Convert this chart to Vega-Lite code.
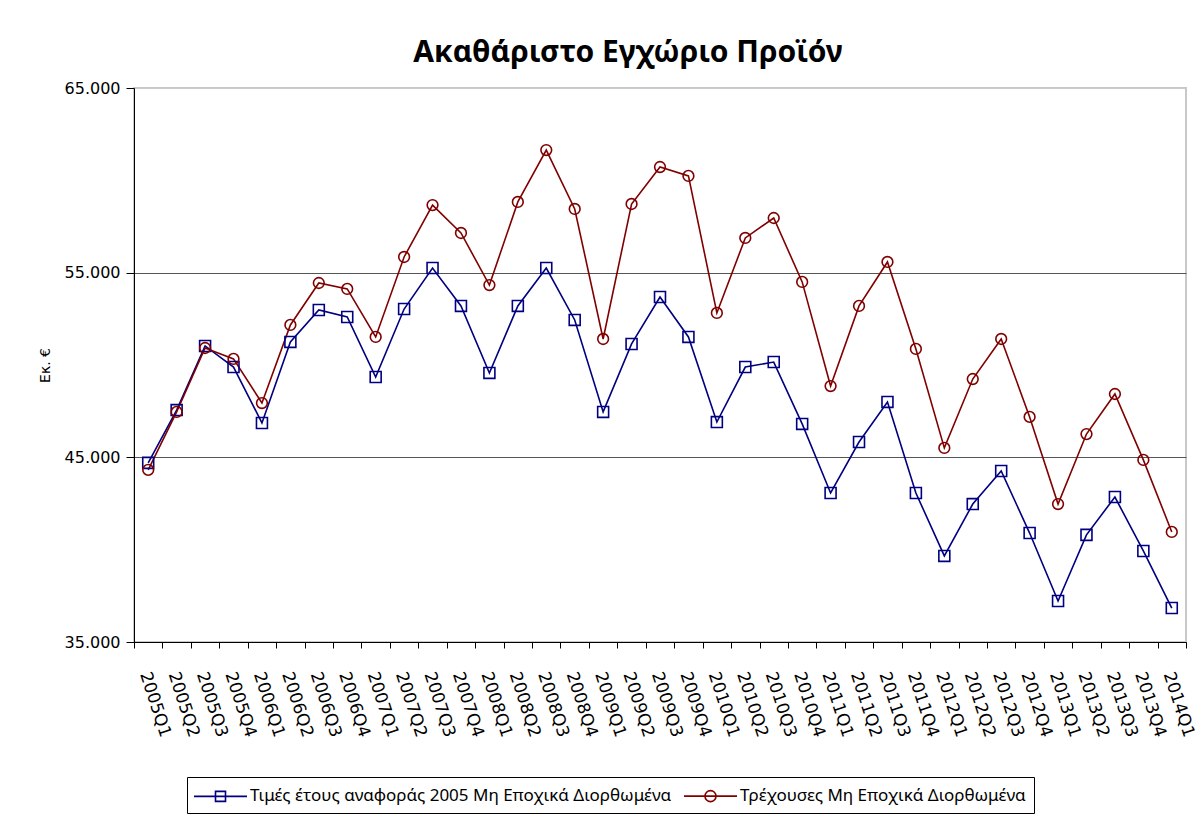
{
  "$schema": "https://vega.github.io/schema/vega-lite/v6.json",
  "width": 1052,
  "height": 554,
  "autosize": "none",
  "padding": {"left": 134, "top": 88, "right": 15, "bottom": 180},
  "background": "white",
  "title": {
    "text": "Ακαθάριστο Εγχώριο Προϊόν",
    "font": "Noto Sans",
    "fontSize": 30,
    "fontWeight": "bold",
    "color": "black",
    "anchor": "middle",
    "offset": 12,
    "dx": -32
  },
  "data": {
    "values": [
      {"q": "2005Q1", "series": "Τιμές έτους αναφοράς 2005 Μη Εποχικά Διορθωμένα", "value": 44700},
      {"q": "2005Q2", "series": "Τιμές έτους αναφοράς 2005 Μη Εποχικά Διορθωμένα", "value": 47560},
      {"q": "2005Q3", "series": "Τιμές έτους αναφοράς 2005 Μη Εποχικά Διορθωμένα", "value": 51030},
      {"q": "2005Q4", "series": "Τιμές έτους αναφοράς 2005 Μη Εποχικά Διορθωμένα", "value": 49890},
      {"q": "2006Q1", "series": "Τιμές έτους αναφοράς 2005 Μη Εποχικά Διορθωμένα", "value": 46860},
      {"q": "2006Q2", "series": "Τιμές έτους αναφοράς 2005 Μη Εποχικά Διορθωμένα", "value": 51250},
      {"q": "2006Q3", "series": "Τιμές έτους αναφοράς 2005 Μη Εποχικά Διορθωμένα", "value": 52980},
      {"q": "2006Q4", "series": "Τιμές έτους αναφοράς 2005 Μη Εποχικά Διορθωμένα", "value": 52600},
      {"q": "2007Q1", "series": "Τιμές έτους αναφοράς 2005 Μη Εποχικά Διορθωμένα", "value": 49350},
      {"q": "2007Q2", "series": "Τιμές έτους αναφοράς 2005 Μη Εποχικά Διορθωμένα", "value": 53030},
      {"q": "2007Q3", "series": "Τιμές έτους αναφοράς 2005 Μη Εποχικά Διορθωμένα", "value": 55250},
      {"q": "2007Q4", "series": "Τιμές έτους αναφοράς 2005 Μη Εποχικά Διορθωμένα", "value": 53200},
      {"q": "2008Q1", "series": "Τιμές έτους αναφοράς 2005 Μη Εποχικά Διορθωμένα", "value": 49570},
      {"q": "2008Q2", "series": "Τιμές έτους αναφοράς 2005 Μη Εποχικά Διορθωμένα", "value": 53200},
      {"q": "2008Q3", "series": "Τιμές έτους αναφοράς 2005 Μη Εποχικά Διορθωμένα", "value": 55250},
      {"q": "2008Q4", "series": "Τιμές έτους αναφοράς 2005 Μη Εποχικά Διορθωμένα", "value": 52440},
      {"q": "2009Q1", "series": "Τιμές έτους αναφοράς 2005 Μη Εποχικά Διορθωμένα", "value": 47460},
      {"q": "2009Q2", "series": "Τιμές έτους αναφοράς 2005 Μη Εποχικά Διορθωμένα", "value": 51140},
      {"q": "2009Q3", "series": "Τιμές έτους αναφοράς 2005 Μη Εποχικά Διορθωμένα", "value": 53680},
      {"q": "2009Q4", "series": "Τιμές έτους αναφοράς 2005 Μη Εποχικά Διορθωμένα", "value": 51520},
      {"q": "2010Q1", "series": "Τιμές έτους αναφοράς 2005 Μη Εποχικά Διορθωμένα", "value": 46910},
      {"q": "2010Q2", "series": "Τιμές έτους αναφοράς 2005 Μη Εποχικά Διορθωμένα", "value": 49890},
      {"q": "2010Q3", "series": "Τιμές έτους αναφοράς 2005 Μη Εποχικά Διορθωμένα", "value": 50160},
      {"q": "2010Q4", "series": "Τιμές έτους αναφοράς 2005 Μη Εποχικά Διορθωμένα", "value": 46810},
      {"q": "2011Q1", "series": "Τιμές έτους αναφοράς 2005 Μη Εποχικά Διορθωμένα", "value": 43070},
      {"q": "2011Q2", "series": "Τιμές έτους αναφοράς 2005 Μη Εποχικά Διορθωμένα", "value": 45830},
      {"q": "2011Q3", "series": "Τιμές έτους αναφοράς 2005 Μη Εποχικά Διορθωμένα", "value": 48000},
      {"q": "2011Q4", "series": "Τιμές έτους αναφοράς 2005 Μη Εποχικά Διορθωμένα", "value": 43070},
      {"q": "2012Q1", "series": "Τιμές έτους αναφοράς 2005 Μη Εποχικά Διορθωμένα", "value": 39660},
      {"q": "2012Q2", "series": "Τιμές έτους αναφοράς 2005 Μη Εποχικά Διορθωμένα", "value": 42470},
      {"q": "2012Q3", "series": "Τιμές έτους αναφοράς 2005 Μη Εποχικά Διορθωμένα", "value": 44260},
      {"q": "2012Q4", "series": "Τιμές έτους αναφοράς 2005 Μη Εποχικά Διορθωμένα", "value": 40900},
      {"q": "2013Q1", "series": "Τιμές έτους αναφοράς 2005 Μη Εποχικά Διορθωμένα", "value": 37220},
      {"q": "2013Q2", "series": "Τιμές έτους αναφοράς 2005 Μη Εποχικά Διορθωμένα", "value": 40800},
      {"q": "2013Q3", "series": "Τιμές έτους αναφοράς 2005 Μη Εποχικά Διορθωμένα", "value": 42850},
      {"q": "2013Q4", "series": "Τιμές έτους αναφοράς 2005 Μη Εποχικά Διορθωμένα", "value": 39930},
      {"q": "2014Q1", "series": "Τιμές έτους αναφοράς 2005 Μη Εποχικά Διορθωμένα", "value": 36840},
      {"q": "2005Q1", "series": "Τρέχουσες Μη Εποχικά Διορθωμένα", "value": 44320},
      {"q": "2005Q2", "series": "Τρέχουσες Μη Εποχικά Διορθωμένα", "value": 47460},
      {"q": "2005Q3", "series": "Τρέχουσες Μη Εποχικά Διορθωμένα", "value": 50920},
      {"q": "2005Q4", "series": "Τρέχουσες Μη Εποχικά Διορθωμένα", "value": 50330},
      {"q": "2006Q1", "series": "Τρέχουσες Μη Εποχικά Διορθωμένα", "value": 47940},
      {"q": "2006Q2", "series": "Τρέχουσες Μη Εποχικά Διορθωμένα", "value": 52170},
      {"q": "2006Q3", "series": "Τρέχουσες Μη Εποχικά Διορθωμένα", "value": 54440},
      {"q": "2006Q4", "series": "Τρέχουσες Μη Εποχικά Διορθωμένα", "value": 54120},
      {"q": "2007Q1", "series": "Τρέχουσες Μη Εποχικά Διορθωμένα", "value": 51520},
      {"q": "2007Q2", "series": "Τρέχουσες Μη Εποχικά Διορθωμένα", "value": 55850},
      {"q": "2007Q3", "series": "Τρέχουσες Μη Εποχικά Διορθωμένα", "value": 58660},
      {"q": "2007Q4", "series": "Τρέχουσες Μη Εποχικά Διορθωμένα", "value": 57150},
      {"q": "2008Q1", "series": "Τρέχουσες Μη Εποχικά Διορθωμένα", "value": 54330},
      {"q": "2008Q2", "series": "Τρέχουσες Μη Εποχικά Διορθωμένα", "value": 58830},
      {"q": "2008Q3", "series": "Τρέχουσες Μη Εποχικά Διορθωμένα", "value": 61640},
      {"q": "2008Q4", "series": "Τρέχουσες Μη Εποχικά Διορθωμένα", "value": 58450},
      {"q": "2009Q1", "series": "Τρέχουσες Μη Εποχικά Διορθωμένα", "value": 51410},
      {"q": "2009Q2", "series": "Τρέχουσες Μη Εποχικά Διορθωμένα", "value": 58720},
      {"q": "2009Q3", "series": "Τρέχουσες Μη Εποχικά Διορθωμένα", "value": 60720},
      {"q": "2009Q4", "series": "Τρέχουσες Μη Εποχικά Διορθωμένα", "value": 60240},
      {"q": "2010Q1", "series": "Τρέχουσες Μη Εποχικά Διορθωμένα", "value": 52820},
      {"q": "2010Q2", "series": "Τρέχουσες Μη Εποχικά Διορθωμένα", "value": 56880},
      {"q": "2010Q3", "series": "Τρέχουσες Μη Εποχικά Διορθωμένα", "value": 57960},
      {"q": "2010Q4", "series": "Τρέχουσες Μη Εποχικά Διορθωμένα", "value": 54500},
      {"q": "2011Q1", "series": "Τρέχουσες Μη Εποχικά Διορθωμένα", "value": 48860},
      {"q": "2011Q2", "series": "Τρέχουσες Μη Εποχικά Διορθωμένα", "value": 53200},
      {"q": "2011Q3", "series": "Τρέχουσες Μη Εποχικά Διορθωμένα", "value": 55580},
      {"q": "2011Q4", "series": "Τρέχουσες Μη Εποχικά Διορθωμένα", "value": 50870},
      {"q": "2012Q1", "series": "Τρέχουσες Μη Εποχικά Διορθωμένα", "value": 45510},
      {"q": "2012Q2", "series": "Τρέχουσες Μη Εποχικά Διορθωμένα", "value": 49240},
      {"q": "2012Q3", "series": "Τρέχουσες Μη Εποχικά Διορθωμένα", "value": 51410},
      {"q": "2012Q4", "series": "Τρέχουσες Μη Εποχικά Διορθωμένα", "value": 47190},
      {"q": "2013Q1", "series": "Τρέχουσες Μη Εποχικά Διορθωμένα", "value": 42470},
      {"q": "2013Q2", "series": "Τρέχουσες Μη Εποχικά Διορθωμένα", "value": 46260},
      {"q": "2013Q3", "series": "Τρέχουσες Μη Εποχικά Διορθωμένα", "value": 48430},
      {"q": "2013Q4", "series": "Τρέχουσες Μη Εποχικά Διορθωμένα", "value": 44860},
      {"q": "2014Q1", "series": "Τρέχουσες Μη Εποχικά Διορθωμένα", "value": 40960}
    ]
  },
  "encoding": {
    "x": {
      "field": "q",
      "type": "ordinal",
      "sort": null,
      "scale": {"type": "band", "paddingInner": 0, "paddingOuter": 0},
      "axis": {
        "title": null,
        "labelAngle": 72,
        "labelFont": "DejaVu Sans",
        "labelFontSize": 17,
        "labelColor": "black",
        "labelOffset": -4,
        "tickBand": "extent",
        "tickColor": "black",
        "tickSize": 6,
        "domainColor": "black",
        "labelPadding": 24,
        "grid": false
      }
    },
    "y": {
      "field": "value",
      "type": "quantitative",
      "scale": {"domain": [35000, 65000], "nice": false, "zero": false},
      "axis": {
        "title": "Εκ. €",
        "titleFont": "DejaVu Sans",
        "titleFontSize": 14,
        "titleFontWeight": "normal",
        "titleColor": "black",
        "titlePadding": 12,
        "values": [35000, 45000, 55000, 65000],
        "labelExpr": "replace(format(datum.value, ','), ',', '.')",
        "labelFont": "DejaVu Sans",
        "labelFontSize": 16,
        "labelColor": "black",
        "tickSize": 8,
        "tickColor": "black",
        "domainColor": "black",
        "labelPadding": 6,
        "grid": true,
        "gridColor": {"condition": {"test": "datum.value === 65000", "value": "#cccccc"}, "value": "#555555"}
      }
    },
    "color": {
      "field": "series",
      "type": "nominal",
      "sort": ["Τιμές έτους αναφοράς 2005 Μη Εποχικά Διορθωμένα", "Τρέχουσες Μη Εποχικά Διορθωμένα"],
      "scale": {
        "domain": ["Τιμές έτους αναφοράς 2005 Μη Εποχικά Διορθωμένα", "Τρέχουσες Μη Εποχικά Διορθωμένα"],
        "range": ["#000080", "#800000"]
      },
      "legend": {
        "orient": "none",
        "legendX": 53,
        "legendY": 689,
        "direction": "horizontal",
        "title": null,
        "strokeColor": "black",
        "fillColor": "white",
        "padding": 8,
        "symbolSize": 400,
        "symbolStrokeWidth": 1.6,
        "symbolType": "M-1,0H1",
        "symbolFillColor": "transparent",
        "labelFont": "Noto Sans",
        "labelFontSize": 17,
        "labelColor": "black",
        "labelLimit": 600,
        "columnPadding": 8,
        "labelOffset": 33,
        "encode": {
          "symbols": {
            "update": {
              "shape": {"signal": "datum.value === 'Τρέχουσες Μη Εποχικά Διορθωμένα' ? 'M-1.2,0H4.1M2,0A0.55,0.55,0,1,1,0.9,0A0.55,0.55,0,1,1,2,0Z' : 'M-1.2,0H4.1M0.95,-0.5H1.95V0.5H0.95Z'"},
              "fill": {"value": "transparent"}
            }
          }
        }
      }
    }
  },
  "layer": [
    {"mark": {"type": "line", "strokeWidth": 1.6}},
    {
      "transform": [{"filter": "datum.series === 'Τιμές έτους αναφοράς 2005 Μη Εποχικά Διορθωμένα'"}],
      "mark": {"type": "point", "shape": "square", "filled": false, "strokeWidth": 1.6, "size": 120, "opacity": 1}
    },
    {
      "transform": [{"filter": "datum.series === 'Τρέχουσες Μη Εποχικά Διορθωμένα'"}],
      "mark": {"type": "point", "shape": "circle", "filled": false, "strokeWidth": 1.6, "size": 115, "opacity": 1}
    }
  ],
  "config": {
    "view": {"stroke": "#c8c8c8", "strokeWidth": 2}
  }
}
